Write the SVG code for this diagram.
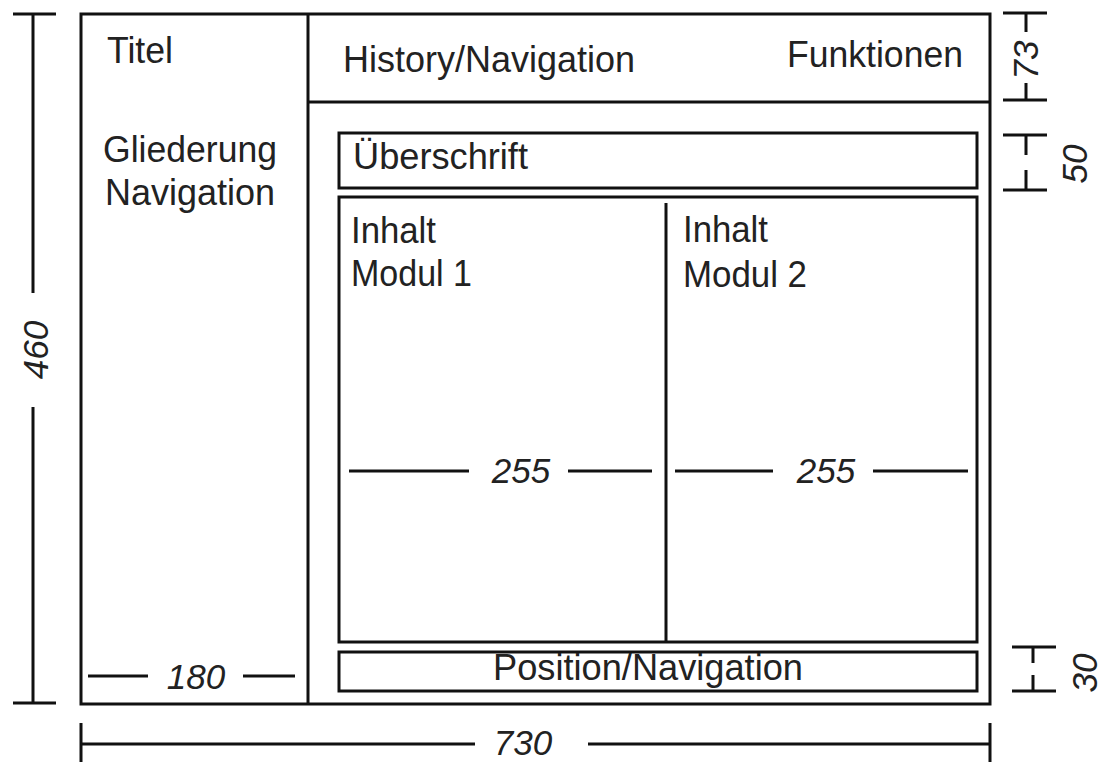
<svg xmlns="http://www.w3.org/2000/svg" width="1103" height="762" viewBox="0 0 1103 762">
  <style>
    .box { fill: none; stroke: #111; stroke-width: 3; }
    .dim { fill: none; stroke: #111; stroke-width: 3; }
    .lbl { font-family: "Liberation Sans", Arial, sans-serif; font-size: 37px; fill: #222; }
    .num { font-family: "Liberation Sans", Arial, sans-serif; font-size: 35px; font-style: italic; fill: #222; }
  </style>
  <rect width="1103" height="762" fill="#fff"/>

  <!-- page frame -->
  <g id="frame">
    <rect class="box" x="81" y="14" width="909" height="690"/>
    <line class="box" x1="308" y1="14" x2="308" y2="704"/>
    <line class="box" x1="308" y1="102" x2="990" y2="102"/>
  </g>

  <!-- left column: title and outline navigation -->
  <g id="sidebar">
    <text class="lbl" x="107" y="63" textLength="66" lengthAdjust="spacingAndGlyphs">Titel</text>
    <text class="lbl" x="103" y="162" textLength="174" lengthAdjust="spacingAndGlyphs">Gliederung</text>
    <text class="lbl" x="105" y="205" textLength="170" lengthAdjust="spacingAndGlyphs">Navigation</text>
  </g>

  <!-- top bar -->
  <g id="header">
    <text class="lbl" x="343" y="72" textLength="292" lengthAdjust="spacingAndGlyphs">History/Navigation</text>
    <text class="lbl" x="787" y="67" textLength="176" lengthAdjust="spacingAndGlyphs">Funktionen</text>
  </g>

  <!-- heading box -->
  <g id="heading">
    <rect class="box" x="339" y="133" width="638" height="55"/>
    <text class="lbl" x="353" y="169" textLength="175" lengthAdjust="spacingAndGlyphs">Überschrift</text>
  </g>

  <!-- content area with two modules -->
  <g id="content">
    <rect class="box" x="339" y="197" width="638" height="445"/>
    <line class="box" x1="666" y1="203" x2="666" y2="642"/>
  </g>
  <g id="module1">
    <text class="lbl" x="351" y="243" textLength="85" lengthAdjust="spacingAndGlyphs">Inhalt</text>
    <text class="lbl" x="351" y="286" textLength="121" lengthAdjust="spacingAndGlyphs">Modul 1</text>
  </g>
  <g id="module2">
    <text class="lbl" x="683" y="242" textLength="85" lengthAdjust="spacingAndGlyphs">Inhalt</text>
    <text class="lbl" x="683" y="287" textLength="124" lengthAdjust="spacingAndGlyphs">Modul 2</text>
  </g>

  <!-- footer bar -->
  <g id="footer">
    <rect class="box" x="339" y="652" width="638" height="39"/>
    <text class="lbl" x="493" y="680" textLength="310" lengthAdjust="spacingAndGlyphs">Position/Navigation</text>
  </g>

  <!-- dimension lines -->
  <g id="dimensions">
    <!-- total height 460 -->
    <path class="dim" d="M13 14 H56 M13 703 H56 M33 14 V293 M33 407 V703"/>
    <text class="num" transform="translate(48 350) rotate(-90)" text-anchor="middle">460</text>

    <!-- total width 730 -->
    <path class="dim" d="M81 723 V762 M990 723 V762 M81 744 H475 M588 744 H990"/>
    <text class="num" x="523" y="755" font-size="33" text-anchor="middle">730</text>

    <!-- sidebar width 180 -->
    <path class="dim" d="M88 676 H148 M243 676 H295"/>
    <text class="num" x="196" y="689" text-anchor="middle">180</text>

    <!-- module widths 255 -->
    <path class="dim" d="M349 471 H469 M568 471 H652 M675 471 H773 M873 471 H968"/>
    <text class="num" x="521" y="483" text-anchor="middle">255</text>
    <text class="num" x="826" y="483" text-anchor="middle">255</text>

    <!-- header height 73 -->
    <path class="dim" d="M1003 13 H1047 M1003 100 H1047 M1026 13 V32 M1026 83 V100"/>
    <text class="num" transform="translate(1038 60) rotate(-90)" text-anchor="middle">73</text>

    <!-- heading height 50 -->
    <path class="dim" d="M1003 135 H1047 M1003 190 H1047 M1026 135 V155 M1026 170 V190"/>
    <text class="num" transform="translate(1087 164) rotate(-90)" text-anchor="middle">50</text>

    <!-- footer height 30 -->
    <path class="dim" d="M1012 647 H1056 M1012 691 H1056 M1033 647 V663 M1033 675 V691"/>
    <text class="num" transform="translate(1097 673) rotate(-90)" text-anchor="middle">30</text>
  </g>
</svg>
